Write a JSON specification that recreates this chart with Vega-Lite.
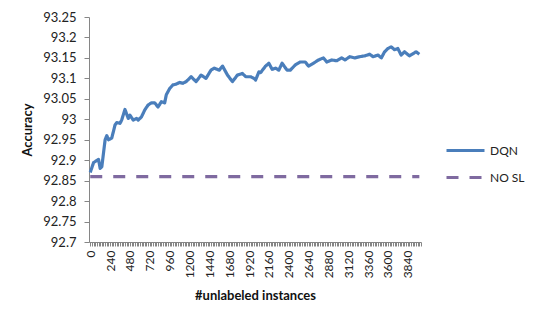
{
  "$schema": "https://vega.github.io/schema/vega-lite/v6.json",
  "width": 332,
  "height": 225,
  "autosize": {"type": "none"},
  "padding": {"left": 89, "top": 17, "right": 117, "bottom": 81},
  "background": "white",
  "config": {
    "view": {"stroke": null},
    "font": "Lato",
    "axis": {"grid": false, "domainColor": "#868686", "tickColor": "#868686", "labelColor": "#222222", "titleColor": "#111111", "labelFont": "Lato", "titleFont": "Lato"}
  },
  "datasets": {
    "acc": [
      {"n": 0, "s": "DQN", "v": 92.87},
      {"n": 40, "s": "DQN", "v": 92.894},
      {"n": 100, "s": "DQN", "v": 92.902},
      {"n": 120, "s": "DQN", "v": 92.88},
      {"n": 140, "s": "DQN", "v": 92.884},
      {"n": 180, "s": "DQN", "v": 92.95},
      {"n": 200, "s": "DQN", "v": 92.96},
      {"n": 220, "s": "DQN", "v": 92.95},
      {"n": 260, "s": "DQN", "v": 92.954},
      {"n": 300, "s": "DQN", "v": 92.986},
      {"n": 320, "s": "DQN", "v": 92.992},
      {"n": 360, "s": "DQN", "v": 92.99},
      {"n": 380, "s": "DQN", "v": 92.998},
      {"n": 420, "s": "DQN", "v": 93.024},
      {"n": 460, "s": "DQN", "v": 93.002},
      {"n": 480, "s": "DQN", "v": 93.01},
      {"n": 520, "s": "DQN", "v": 92.998},
      {"n": 560, "s": "DQN", "v": 93.002},
      {"n": 580, "s": "DQN", "v": 92.998},
      {"n": 620, "s": "DQN", "v": 93.006},
      {"n": 660, "s": "DQN", "v": 93.023},
      {"n": 700, "s": "DQN", "v": 93.035},
      {"n": 740, "s": "DQN", "v": 93.04},
      {"n": 780, "s": "DQN", "v": 93.04},
      {"n": 820, "s": "DQN", "v": 93.03},
      {"n": 860, "s": "DQN", "v": 93.043},
      {"n": 900, "s": "DQN", "v": 93.04},
      {"n": 920, "s": "DQN", "v": 93.06},
      {"n": 960, "s": "DQN", "v": 93.075},
      {"n": 1000, "s": "DQN", "v": 93.084},
      {"n": 1040, "s": "DQN", "v": 93.086},
      {"n": 1080, "s": "DQN", "v": 93.09},
      {"n": 1120, "s": "DQN", "v": 93.088},
      {"n": 1160, "s": "DQN", "v": 93.092},
      {"n": 1220, "s": "DQN", "v": 93.104},
      {"n": 1280, "s": "DQN", "v": 93.092},
      {"n": 1340, "s": "DQN", "v": 93.108},
      {"n": 1400, "s": "DQN", "v": 93.1},
      {"n": 1460, "s": "DQN", "v": 93.12},
      {"n": 1500, "s": "DQN", "v": 93.125},
      {"n": 1560, "s": "DQN", "v": 93.12},
      {"n": 1600, "s": "DQN", "v": 93.13},
      {"n": 1660, "s": "DQN", "v": 93.108},
      {"n": 1720, "s": "DQN", "v": 93.092},
      {"n": 1780, "s": "DQN", "v": 93.108},
      {"n": 1840, "s": "DQN", "v": 93.112},
      {"n": 1880, "s": "DQN", "v": 93.104},
      {"n": 1940, "s": "DQN", "v": 93.104},
      {"n": 1980, "s": "DQN", "v": 93.1},
      {"n": 2000, "s": "DQN", "v": 93.096},
      {"n": 2040, "s": "DQN", "v": 93.116},
      {"n": 2060, "s": "DQN", "v": 93.114},
      {"n": 2120, "s": "DQN", "v": 93.13},
      {"n": 2160, "s": "DQN", "v": 93.137},
      {"n": 2200, "s": "DQN", "v": 93.122},
      {"n": 2240, "s": "DQN", "v": 93.125},
      {"n": 2280, "s": "DQN", "v": 93.12},
      {"n": 2320, "s": "DQN", "v": 93.137},
      {"n": 2380, "s": "DQN", "v": 93.12},
      {"n": 2420, "s": "DQN", "v": 93.12},
      {"n": 2480, "s": "DQN", "v": 93.133},
      {"n": 2540, "s": "DQN", "v": 93.14},
      {"n": 2600, "s": "DQN", "v": 93.14},
      {"n": 2640, "s": "DQN", "v": 93.13},
      {"n": 2700, "s": "DQN", "v": 93.137},
      {"n": 2760, "s": "DQN", "v": 93.145},
      {"n": 2820, "s": "DQN", "v": 93.15},
      {"n": 2860, "s": "DQN", "v": 93.14},
      {"n": 2920, "s": "DQN", "v": 93.145},
      {"n": 2980, "s": "DQN", "v": 93.143},
      {"n": 3040, "s": "DQN", "v": 93.15},
      {"n": 3080, "s": "DQN", "v": 93.145},
      {"n": 3140, "s": "DQN", "v": 93.153},
      {"n": 3200, "s": "DQN", "v": 93.15},
      {"n": 3260, "s": "DQN", "v": 93.153},
      {"n": 3320, "s": "DQN", "v": 93.155},
      {"n": 3380, "s": "DQN", "v": 93.159},
      {"n": 3420, "s": "DQN", "v": 93.153},
      {"n": 3480, "s": "DQN", "v": 93.157},
      {"n": 3520, "s": "DQN", "v": 93.15},
      {"n": 3560, "s": "DQN", "v": 93.165},
      {"n": 3600, "s": "DQN", "v": 93.173},
      {"n": 3640, "s": "DQN", "v": 93.177},
      {"n": 3680, "s": "DQN", "v": 93.17},
      {"n": 3720, "s": "DQN", "v": 93.173},
      {"n": 3760, "s": "DQN", "v": 93.157},
      {"n": 3800, "s": "DQN", "v": 93.165},
      {"n": 3860, "s": "DQN", "v": 93.155},
      {"n": 3900, "s": "DQN", "v": 93.16},
      {"n": 3940, "s": "DQN", "v": 93.165},
      {"n": 3980, "s": "DQN", "v": 93.159},
      {"n": 0, "s": "NO SL", "v": 92.86},
      {"n": 3980, "s": "NO SL", "v": 92.86}
    ]
  },
  "data": {"name": "acc"},
  "mark": {"type": "line", "strokeWidth": 3.2, "strokeJoin": "round"},
  "encoding": {
    "x": {
      "field": "n",
      "type": "quantitative",
      "scale": {"domain": [-15, 4000], "nice": false, "zero": false},
      "axis": {
        "title": "#unlabeled instances",
        "titleFontSize": 13,
        "titleFontWeight": "bold",
        "titlePadding": 12,
        "tickCount": 200,
        "format": "d",
        "labelExpr": "datum.value % 240 === 0 && datum.value <= 3840 ? datum.label : ''",
        "labelOverlap": false,
        "labelFlush": false,
        "labelBound": false,
        "labelAngle": -90,
        "labelFontSize": 12,
        "labelPadding": 4,
        "tickSize": 4
      }
    },
    "y": {
      "field": "v",
      "type": "quantitative",
      "scale": {"domain": [92.7, 93.25], "nice": false, "zero": false},
      "axis": {
        "title": "Accuracy",
        "titleFontSize": 13,
        "titleFontWeight": "bold",
        "titlePadding": 8,
        "values": [92.7, 92.75, 92.8, 92.85, 92.9, 92.95, 93, 93.05, 93.1, 93.15, 93.2, 93.25],
        "format": ".2~f",
        "labelFontSize": 13,
        "labelPadding": 8,
        "tickSize": 5,
        "labelFlush": false
      }
    },
    "color": {
      "field": "s",
      "type": "nominal",
      "scale": {"domain": ["DQN", "NO SL"], "range": ["#4A7EBB", "#7F6AA0"]},
      "legend": {
        "title": null,
        "orient": "none",
        "legendX": 356,
        "legendY": 113,
        "symbolType": "stroke",
        "symbolSize": 1444,
        "symbolStrokeWidth": 3,
        "labelFontSize": 12,
        "labelColor": "#222222",
        "labelOffset": 4,
        "rowPadding": 0
      }
    },
    "strokeDash": {
      "field": "s",
      "type": "nominal",
      "scale": {"domain": ["DQN", "NO SL"], "range": [[1, 0], [12, 11]]},
      "legend": null
    }
  }
}
